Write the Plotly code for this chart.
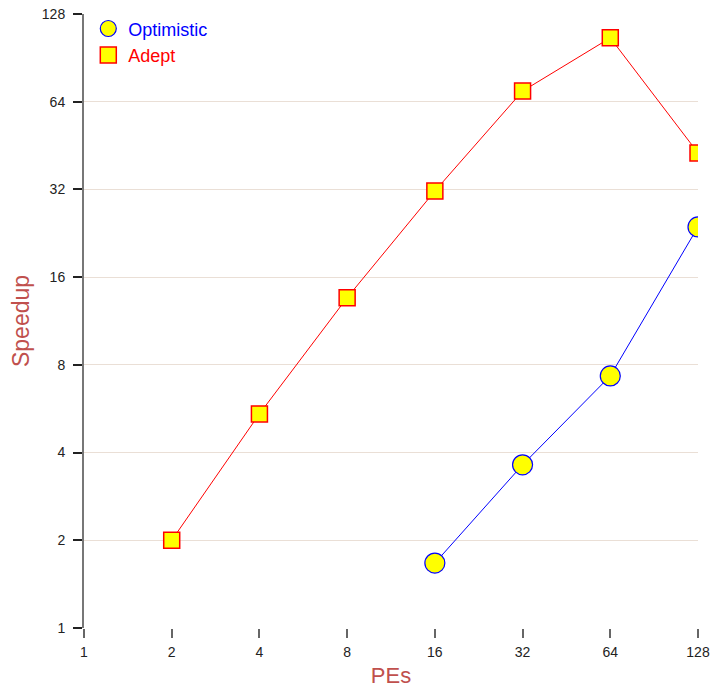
import plotly.graph_objects as go

pes_opt = [16, 32, 64, 128]
speedup_opt = [1.67, 3.63, 7.33, 23.8]

pes_adept = [2, 4, 8, 16, 32, 64, 128]
speedup_adept = [2.0, 5.43, 13.6, 31.6, 69.6, 106, 42.7]

tick_vals = [1, 2, 4, 8, 16, 32, 64, 128]
tick_text = [str(v) for v in tick_vals]

font = "Liberation Sans, Arial, sans-serif"
grid = "#eadfd6"
title_color = "#c0504d"

series = [
    ("Optimistic", pes_opt, speedup_opt, "#0000ff", "circle", 20, 1.2),
    ("Adept", pes_adept, speedup_adept, "#ff0000", "square", 16, 1.5),
]

fig = go.Figure()
for name, xs, ys, col, sym, size, lw in series:
    # connecting line
    fig.add_trace(go.Scatter(
        x=xs, y=ys, mode="lines", showlegend=False, hoverinfo="skip",
        line=dict(color=col, width=1),
    ))
    # markers (also used for the legend entry)
    fig.add_trace(go.Scatter(
        x=xs, y=ys, mode="markers", legendgroup=name,
        name=f"<span style='color:{col}'>{name}</span>",
        marker=dict(symbol=sym, size=size, color="#ffff00",
                    line=dict(color=col, width=lw)),
    ))

fig.update_layout(
    width=712, height=689,
    margin=dict(l=84, r=14, t=14, b=61, autoexpand=False),
    paper_bgcolor="white", plot_bgcolor="white",
    font=dict(family=font, size=13, color="#222222"),
    showlegend=True,
    legend=dict(x=0.007, y=1.006, xanchor="left", yanchor="top",
                bgcolor="rgba(0,0,0,0)", font=dict(size=18),
                itemsizing="trace", tracegroupgap=0),
)
fig.update_xaxes(
    type="log", range=[0, 2.10721], tickvals=tick_vals, ticktext=tick_text,
    showgrid=False, zeroline=False, showline=False, automargin=False,
    ticks="outside", ticklen=9, tickcolor="#666666", tickwidth=1.5,
    tickfont=dict(size=14, color="#222222"), ticklabelstandoff=2,
    title=dict(text="PEs", font=dict(size=22, color=title_color), standoff=8),
)
fig.update_yaxes(
    type="log", range=[0, 2.10721], tickvals=tick_vals, ticktext=tick_text,
    showgrid=True, gridcolor=grid, gridwidth=1, zeroline=False, automargin=False,
    showline=True, linecolor="#777777", linewidth=2,
    ticks="outside", ticklen=9, tickcolor="#222222", tickwidth=1.5,
    tickfont=dict(size=14, color="#222222"), ticklabelstandoff=5,
    title=dict(text="Speedup", font=dict(size=23, color=title_color), standoff=6),
)

fig.write_html("out.html")
